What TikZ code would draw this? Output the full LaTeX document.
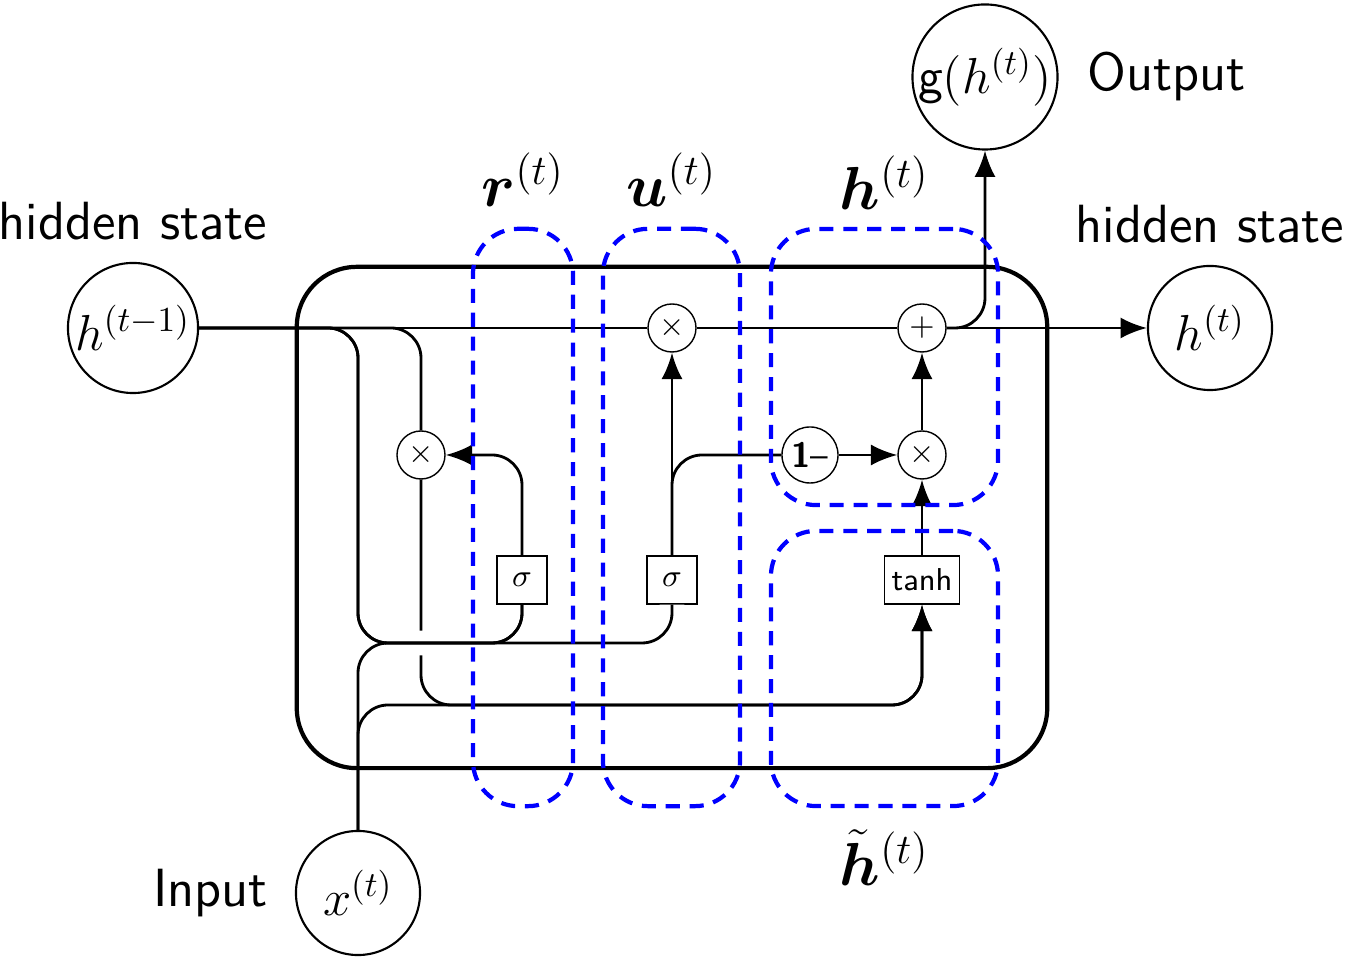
\documentclass[tikz,border=0pt]{standalone}
\usepackage{amsmath,amssymb,bm}
\usetikzlibrary{arrows.meta,positioning}

\begin{document}
\begin{tikzpicture}[
  x=0.01cm, y=-0.01cm,
  font=\small,
  var/.style={draw, semithick, circle, inner sep=0pt, font=\Large},
  op/.style={draw, thin, circle, inner sep=0pt, minimum size=4.8mm},
  act/.style={draw, thin, inner sep=2pt, minimum width=5mm, minimum height=4.8mm,
              font=\small\sffamily},
  cell/.style={draw, very thick, rounded corners=6mm, minimum width=75mm,
               minimum height=50.1mm},
  gate/.style={draw=blue, very thick, dash pattern=on 4pt off 2.8pt,
               rounded corners=4.5mm},
  wire/.style={thick, rounded corners=3mm},
  arr/.style={-{Latex[length=7.5pt, width=6pt]}, thick, rounded corners=3mm},
  halo/.style={draw=white, line width=7pt, rounded corners=3mm},
  lbl/.style={inner sep=1pt, font=\fontsize{15.3}{18}\selectfont\sffamily},
  glbl/.style={inner sep=1pt, font=\LARGE}
]
\useasboundingbox (0,0) rectangle (1348,962);
% ---------------- states ----------------
\node[var, minimum size=13mm] (hprev) at (133,328) {$h^{(t-1)}$};
\node[var, minimum size=12.4mm] (hnext) at (1210,328) {$h^{(t)}$};
\node[var, minimum size=14.4mm] (gout) at (985,77) {\textsf{g}$(h^{(t)})$};
\node[var, minimum size=12.4mm] (xin) at (358,893) {$x^{(t)}$};
\node[lbl, above=1.8mm of hprev] {hidden state};
\node[lbl, above=1.8mm of hnext] {hidden state};
\node[lbl, right=2.5mm of gout] {Output};
\node[lbl, left=2.3mm of xin] {Input};
% ---------------- operations ----------------
\node[op] (mul0) at (421,455) {$\times$};
\node[op] (mul1) at (672,328) {$\times$};
\node[op] (add) at (922,328) {$+$};
\node[op] (mul2) at (922,455) {$\times$};
\node[op, minimum size=5.6mm, font=\normalsize\sffamily] (omin) at (810,455) {\textbf{1}--};
\node[act] (sig1) at (522,580) {$\sigma$};
\node[act] (sig2) at (672,580) {$\sigma$};
\node[act] (tanh) at (922,580) {tanh};
% bus levels
\coordinate (jA) at (358,643);
\coordinate (jB) at (358,705);
\coordinate (rh) at (mul0 |- jB);
% ---------------- edges ----------------
\draw[wire] (hprev.east) -| (mul0.north);
\draw[arr] (mul0.south) -- (rh) -| (tanh.south);
\draw[halo] (jA) -| (sig2.south);
\draw[wire] (hprev.east) -| (jA) -| (sig1.south);
\draw[wire] (hprev.east) -| (jA) -| (sig2.south);
\draw[wire] (xin.north) -- (jA) -| (sig1.south);
\draw[arr] (xin.north) -- (jB) -| (tanh.south);
\draw[arr] (sig1.north) |- (mul0.east);
\draw[arr] (sig2.north) -- (mul1.south);
\draw[wire] (sig2.north) |- (omin.west);
\draw[arr] (omin) -- (mul2);
\draw[arr] (tanh) -- (mul2);
\draw[arr] (mul2) -- (add);
\draw[wire] (hprev) -- (mul1);
\draw[wire] (mul1) -- (add);
\draw[arr] (add) -- (hnext);
\draw[arr] (add.east) -| (gout.south);
% ---------------- cell and gates ----------------
\node[cell] (cellbox) at (672,517.5) {};
\node[gate, minimum width=10mm, minimum height=57.7mm] (rgate) at (523,517.5) {};
\node[gate, minimum width=13.7mm, minimum height=57.7mm] (ugate) at (671.5,517.5) {};
\node[gate, minimum width=22.7mm, minimum height=27.6mm] (hgate) at (884.5,367) {};
\node[gate, minimum width=22.7mm, minimum height=27.5mm] (cgate) at (884.5,668.5) {};
\node[glbl, above=1.6mm of rgate] {$\bm{r}^{(t)}$};
\node[glbl, above=1.6mm of ugate] {$\bm{u}^{(t)}$};
\node[glbl, above=1.3mm of hgate] {$\bm{h}^{(t)}$};
\node[glbl, below=1.7mm of cgate] {$\tilde{\bm{h}}^{(t)}$};
\end{tikzpicture}
\end{document}
